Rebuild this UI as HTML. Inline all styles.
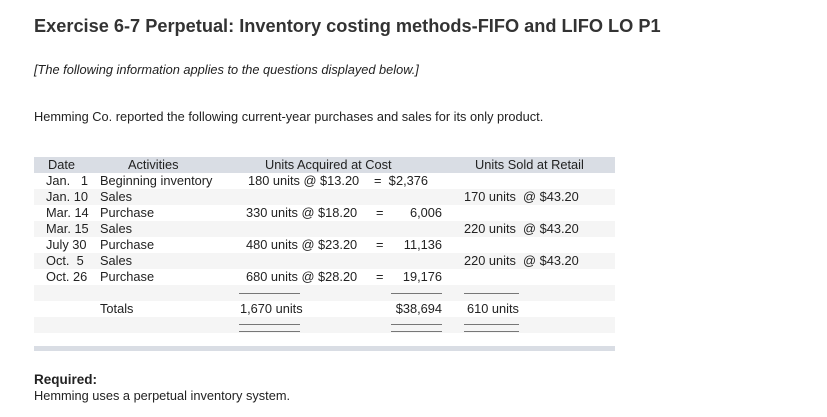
<!DOCTYPE html>
<html><head><meta charset="utf-8"><style>
body{margin:0;width:827px;height:417px;background:#fff;font-family:"Liberation Sans",sans-serif;color:#222;position:relative;overflow:hidden}
.a{position:absolute;white-space:nowrap;font-size:12.8px;line-height:16px}
.r{text-align:right}
.row{position:absolute;left:34px;width:581px;height:16px}
.ln{position:absolute;height:1px;background:#777}
</style></head><body>
<div class="a" style="left:34px;top:15px;font-size:18.2px;line-height:22px;font-weight:bold;color:#333">Exercise 6-7 Perpetual: Inventory costing methods-FIFO and LIFO LO P1</div>
<div class="a" style="left:34px;top:62px;font-style:italic">[The following information applies to the questions displayed below.]</div>
<div class="a" style="left:34px;top:109px">Hemming Co. reported the following current-year purchases and sales for its only product.</div>

<div>
<div class="row" style="top:157px;background:#d9dde4"></div>
<div class="row" style="top:173px;background:#fff"></div>
<div class="row" style="top:189px;background:#f5f5f5"></div>
<div class="row" style="top:205px;background:#fff"></div>
<div class="row" style="top:221px;background:#f5f5f5"></div>
<div class="row" style="top:237px;background:#fff"></div>
<div class="row" style="top:253px;background:#f5f5f5"></div>
<div class="row" style="top:269px;background:#fff"></div>
<div class="row" style="top:285px;background:#f5f5f5"></div>
<div class="row" style="top:301px;background:#fff"></div>
<div class="row" style="top:317px;background:#f5f5f5"></div>
<div class="row" style="top:333px;background:#fff;height:13px"></div>
<div class="row" style="top:346px;height:5px;background:#d9dde4"></div>

<div class="a" style="left:48px;top:157px">Date</div>
<div class="a" style="left:128px;top:157px">Activities</div>
<div class="a" style="left:265px;top:157px">Units Acquired at Cost</div>
<div class="a" style="left:475px;top:157px">Units Sold at Retail</div>

<div class="a" style="left:46px;top:173px">Jan.&nbsp;&nbsp;&nbsp;1</div><div class="a" style="left:100px;top:173px">Beginning inventory</div>
<div class="a" style="left:46px;top:189px">Jan. 10</div><div class="a" style="left:100px;top:189px">Sales</div>
<div class="a" style="left:46px;top:205px">Mar. 14</div><div class="a" style="left:100px;top:205px">Purchase</div>
<div class="a" style="left:46px;top:221px">Mar. 15</div><div class="a" style="left:100px;top:221px">Sales</div>
<div class="a" style="left:46px;top:237px">July 30</div><div class="a" style="left:100px;top:237px">Purchase</div>
<div class="a" style="left:46px;top:253px">Oct.&nbsp;&nbsp;5</div><div class="a" style="left:100px;top:253px">Sales</div>
<div class="a" style="left:46px;top:269px">Oct. 26</div><div class="a" style="left:100px;top:269px">Purchase</div>
<div class="a" style="left:100px;top:301px">Totals</div>

<div class="a" style="left:248px;top:173px">180 units @ $13.20</div><div class="a" style="left:374px;top:173px">=&nbsp;&nbsp;$</div><div class="a r" style="left:390px;width:38px;top:173px">2,376</div>
<div class="a" style="left:246px;top:205px">330 units @ $18.20</div><div class="a" style="left:376px;top:205px">=</div><div class="a r" style="left:400px;width:42px;top:205px">6,006</div>
<div class="a" style="left:246px;top:237px">480 units @ $23.20</div><div class="a" style="left:376px;top:237px">=</div><div class="a r" style="left:400px;width:42px;top:237px">11,136</div>
<div class="a" style="left:246px;top:269px">680 units @ $28.20</div><div class="a" style="left:376px;top:269px">=</div><div class="a r" style="left:400px;width:42px;top:269px">19,176</div>
<div class="a" style="left:240px;top:301px">1,670 units</div><div class="a r" style="left:380px;width:62px;top:301px">$38,694</div>

<div class="a" style="left:464px;top:189px">170 units&nbsp;&nbsp;@ $43.20</div>
<div class="a" style="left:464px;top:221px">220 units&nbsp;&nbsp;@ $43.20</div>
<div class="a" style="left:464px;top:253px">220 units&nbsp;&nbsp;@ $43.20</div>
<div class="a" style="left:467px;top:301px">610 units</div>

<div class="ln" style="left:239px;width:61px;top:293px"></div>
<div class="ln" style="left:391px;width:51px;top:293px"></div>
<div class="ln" style="left:464px;width:55px;top:293px"></div>
<div class="ln" style="left:239px;width:61px;top:324px"></div><div class="ln" style="left:239px;width:61px;top:331px"></div>
<div class="ln" style="left:391px;width:51px;top:324px"></div><div class="ln" style="left:391px;width:51px;top:331px"></div>
<div class="ln" style="left:464px;width:55px;top:324px"></div><div class="ln" style="left:464px;width:55px;top:331px"></div>
</div>

<div class="a" style="left:34px;top:372px;font-size:13.5px;font-weight:bold">Required:</div>
<div class="a" style="left:34px;top:388px">Hemming uses a perpetual inventory system.</div>
</body></html>
